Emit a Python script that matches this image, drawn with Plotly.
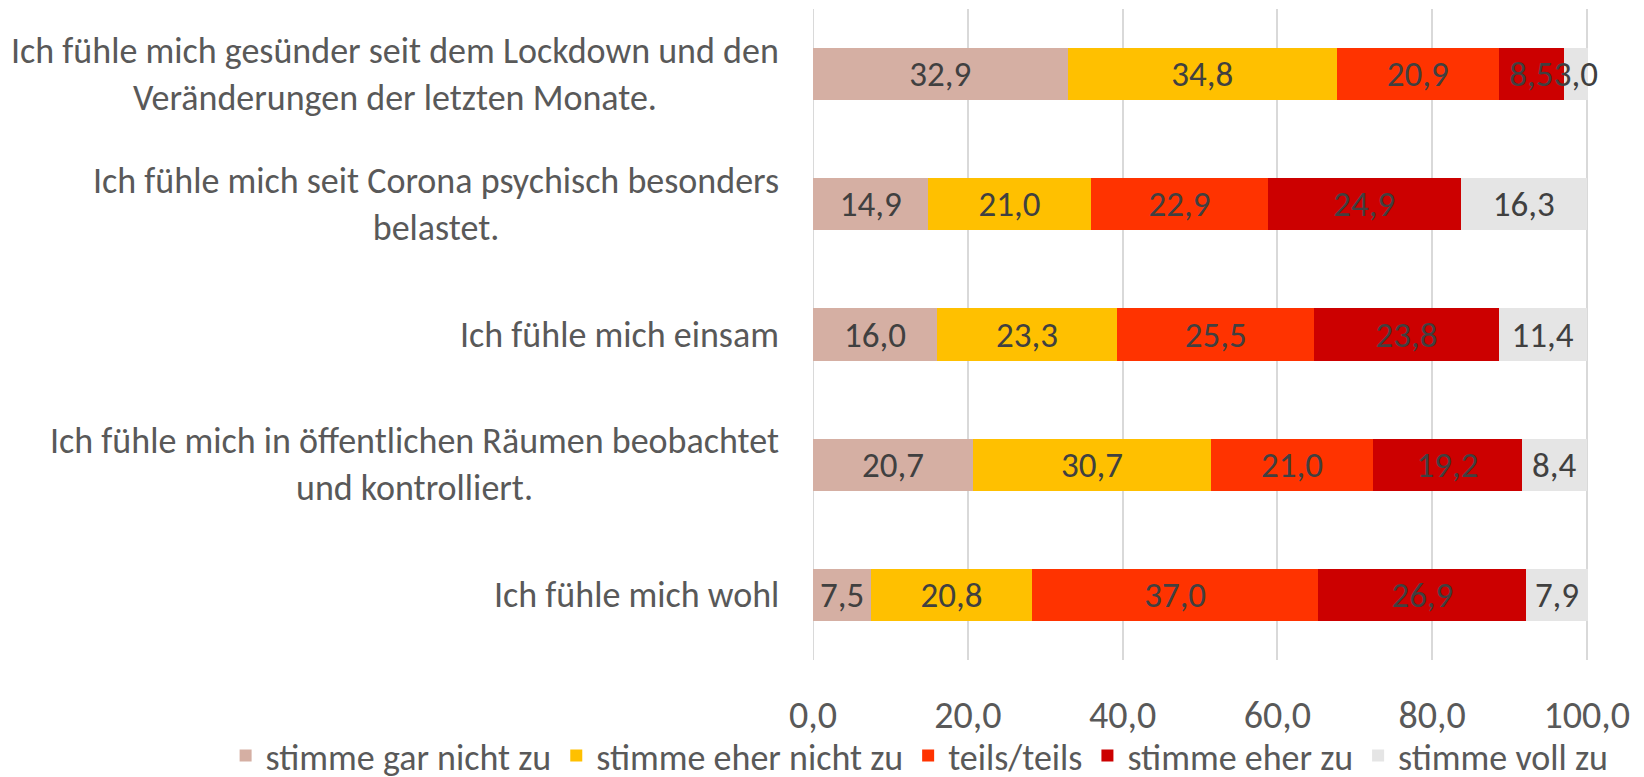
import plotly.graph_objects as go

categories = [
    "Ich fühle mich gesünder seit dem Lockdown und den<br>Veränderungen der letzten Monate.",
    "Ich fühle mich seit Corona psychisch besonders<br>belastet.",
    "Ich fühle mich einsam",
    "Ich fühle mich in öffentlichen Räumen beobachtet<br>und kontrolliert.",
    "Ich fühle mich wohl",
]
series_names = ["stimme gar nicht zu", "stimme eher nicht zu", "teils/teils",
                "stimme eher zu", "stimme voll zu"]
gar_nicht = [32.9, 14.9, 16.0, 20.7, 7.5]
eher_nicht = [34.8, 21.0, 23.3, 30.7, 20.8]
teils = [20.9, 22.9, 25.5, 21.0, 37.0]
eher_zu = [8.5, 24.9, 23.8, 19.2, 26.9]
voll_zu = [3.0, 16.3, 11.4, 8.4, 7.9]
tick_vals = [0, 20, 40, 60, 80, 100]
tick_text = ["0,0", "20,0", "40,0", "60,0", "80,0", "100,0"]

colors = ["#D5AFA3", "#FFC000", "#FF3300", "#CC0000", "#E5E5E5"]
FONT = "Carlito, Lato, 'Liberation Sans', sans-serif"
TXT = "#404040"
LBL = "#595959"

fig = go.Figure()
for name, vals, col in zip(series_names, [gar_nicht, eher_nicht, teils, eher_zu, voll_zu], colors):
    fig.add_trace(go.Bar(
        y=categories, x=vals, name=name, orientation="h",
        marker=dict(color=col, line=dict(width=0)),
        text=[f"{v:.1f}".replace(".", ",") for v in vals],
        textposition="inside", insidetextanchor="middle",
        constraintext="none", textangle=0,
        textfont=dict(family=FONT, size=35, color=TXT),
        hoverinfo="skip",
    ))

for c in categories:
    fig.add_annotation(
        x=0, xref="paper", y=c, yref="y", xanchor="right", yanchor="middle",
        xshift=-32, text=c, showarrow=False, align="center",
        font=dict(family=FONT, size=36, color=LBL),
    )

fig.update_layout(
    width=1644, height=777,
    barmode="stack", bargap=0.6,
    plot_bgcolor="white", paper_bgcolor="white",
    margin=dict(l=813, r=34, t=9, b=117, autoexpand=False),
    uniformtext=dict(minsize=35, mode="show"),
    font=dict(family=FONT, color=LBL),
    showlegend=True,
    legend=dict(
        orientation="h", x=-0.737, xanchor="left", y=-0.147, yanchor="middle",
        font=dict(family=FONT, size=36, color=LBL),
        bgcolor="rgba(0,0,0,0)",
        traceorder="normal", itemwidth=30,
    ),
    xaxis=dict(
        range=[0, 103], tickvals=tick_vals, ticktext=tick_text,
        showgrid=True, gridcolor="#D9D9D9", gridwidth=2,
        zeroline=False, showline=False, ticks="",
        tickfont=dict(family=FONT, size=38, color=LBL),
        ticklabelstandoff=29, fixedrange=True,
    ),
    yaxis=dict(
        autorange="reversed", showticklabels=False, showgrid=False,
        zeroline=False, showline=False, ticks="", fixedrange=True,
    ),
)
fig.add_vline(x=0, line=dict(color="#D9D9D9", width=2), layer="below")

fig.write_html("out.html", config={"displayModeBar": False},
               post_script="document.body.style.margin='0';")
